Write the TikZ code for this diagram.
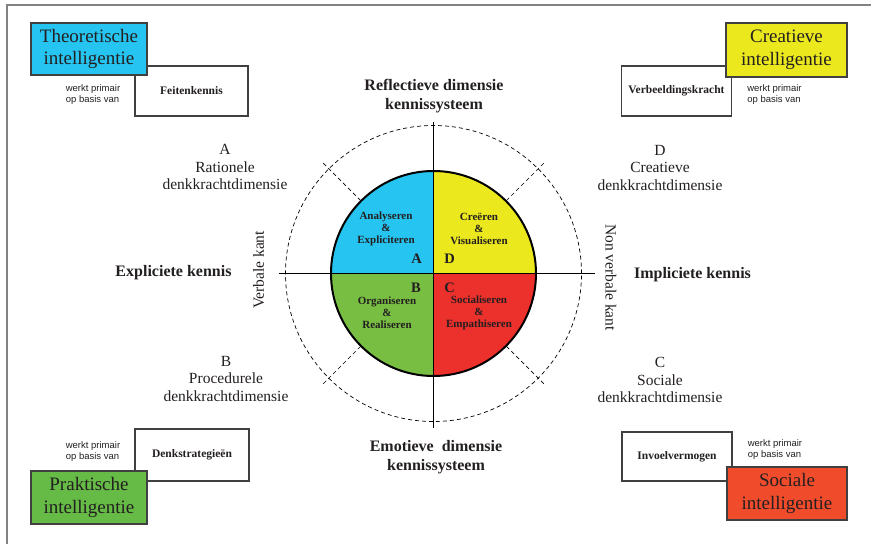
\documentclass[tikz,border=0pt]{standalone}
\usepackage{fontspec}
\setmainfont{Liberation Serif}
\newfontfamily\wpfont{Liberation Sans}
\usetikzlibrary{positioning,calc}
\definecolor{qCyan}{RGB}{38,196,240}
\definecolor{qYellow}{RGB}{235,232,30}
\definecolor{qGreen}{RGB}{120,190,66}
\definecolor{qRed}{RGB}{236,48,44}
\definecolor{pGreen}{RGB}{102,187,70}
\definecolor{sRed}{RGB}{240,76,44}
\definecolor{dGray}{RGB}{64,64,64}
\definecolor{fGray}{RGB}{130,130,130}
\definecolor{tBlack}{RGB}{35,31,32}
\begin{document}
\begin{tikzpicture}[x=1pt,y=1pt,
  intel/.style={draw=dGray,line width=1.2pt,align=center,inner sep=0pt,text=tBlack,font=\fontsize{19}{22.5}\selectfont},
  kbox/.style={draw=dGray,line width=1.2pt,fill=white,minimum width=112pt,minimum height=50pt,inner sep=0pt,text=tBlack,font=\bfseries\fontsize{11.5}{13}\selectfont},
  wp/.style={align=left,inner sep=0pt,text=tBlack,font=\wpfont\fontsize{9.5}{11}\selectfont},
  head/.style={align=center,inner sep=0pt,text=tBlack,font=\bfseries\fontsize{16}{19}\selectfont},
  dim/.style={align=center,inner sep=0pt,text=tBlack,font=\fontsize{15.5}{17.5}\selectfont},
  quad/.style={align=center,inner sep=0pt,text=tBlack,font=\bfseries\fontsize{11}{12}\selectfont},
  qlet/.style={inner sep=0pt,text=tBlack,font=\bfseries\fontsize{14.5}{16}\selectfont},
  ax/.style={line width=0.9pt,black},
  dsh/.style={line width=0.7pt,dash pattern=on 4pt off 3pt}]
\useasboundingbox (0,0) rectangle (871,544);
\draw[fGray,line width=1.2pt] (7,0) -- (7,539) -- (871,539);
% circle
\coordinate (c) at (433.5,270.5);
\fill[qCyan] (c) -- ++(-102.5,0) arc[start angle=180,end angle=90,radius=102.5] -- cycle;
\fill[qYellow] (c) -- ++(0,102.5) arc[start angle=90,end angle=0,radius=102.5] -- cycle;
\fill[qRed] (c) -- ++(102.5,0) arc[start angle=0,end angle=-90,radius=102.5] -- cycle;
\fill[qGreen] (c) -- ++(0,-102.5) arc[start angle=270,end angle=180,radius=102.5] -- cycle;
\draw[dsh] (c) circle[radius=148];
\foreach \a in {45,135,225,315} \draw[dsh] (c) ++(\a:103) -- ++(\a:55);
\draw[ax] (c) ++(0,151.5) -- ++(0,-306);
\draw[ax] (c) ++(-154.5,0) -- ++(316,0);
\draw[line width=2pt,black] (c) circle[radius=102.5];
\node[quad] (ana) at ($(c)+(-47.5,44.5)$) {Analyseren\\\&\\Expliciteren};
\node[quad] (cre) at ($(c)+(45.5,44.5)$) {Creëren\\\&\\Visualiseren};
\node[quad] (org) at ($(c)+(-46.5,-39.5)$) {Organiseren\\\&\\Realiseren};
\node[quad] (soc) at ($(c)+(45.5,-39.5)$) {Socialiseren\\\&\\Empathiseren};
\node[qlet] (la) at ($(c)+(-17,15)$) {A};
\node[qlet] (ld) at ($(c)+(16,15)$) {D};
\node[qlet] (lb) at ($(c)+(-17.5,-14)$) {B};
\node[qlet] (lc) at ($(c)+(16,-14)$) {C};
% labels round the circle
\node[head] (refl) at (434,447.5) {Reflectieve dimensie\\kennissysteem};
\node[head] (emo) at (436,86.5) {Emotieve\ \ dimensie\\kennissysteem};
\node[head] (expl) at (173.5,271) {Expliciete kennis};
\node[head] (impl) at (692.5,269) {Impliciete kennis};
\node[dim,rotate=90] (verb) at (258.5,274) {Verbale kant};
\node[dim,rotate=-90] (nverb) at (611,266.5) {Non verbale kant};
\node[dim] (dA) at (225,377) {A\\Rationele\\denkkrachtdimensie};
\node[dim] (dD) at (660,376) {D\\Creatieve\\denkkrachtdimensie};
\node[dim] (dB) at (226,165) {B\\Procedurele\\denkkrachtdimensie};
\node[dim] (dC) at (660,164) {C\\Sociale\\denkkrachtdimensie};
% corner boxes
\node[kbox,minimum width=113pt] (feit) at (191.5,453) {Feitenkennis};
\node[kbox,minimum width=110pt] (verbk) at (676.5,453) {Verbeeldingskracht};
\node[kbox,minimum width=114pt,minimum height=52pt] (denk) at (192,89) {Denkstrategieën};
\node[kbox,minimum width=110pt,minimum height=49pt] (invoel) at (677,87.5) {Invoelvermogen};
\node[intel,fill=qCyan,minimum width=116pt,minimum height=52pt] (theo) at (89,495) {Theoretische\\intelligentie};
\node[intel,fill=qYellow,minimum width=121pt,minimum height=54pt] (crea) at (786.5,494) {Creatieve\\intelligentie};
\node[intel,fill=pGreen,minimum width=116pt,minimum height=53pt] (prak) at (89,46.5) {Praktische\\intelligentie};
\node[intel,fill=sRed,minimum width=120pt,minimum height=53pt] (soci) at (787,50.5) {Sociale\\intelligentie};
\node[wp,left=14pt of feit,yshift=-3.5pt] (wp1) {werkt primair\\op basis van};
\node[wp,right=15pt of verbk,yshift=-4pt] (wp2) {werkt primair\\op basis van};
\node[wp,left=14pt of denk,yshift=3pt] (wp3) {werkt primair\\op basis van};
\node[wp,right=15pt of invoel,yshift=6.5pt] (wp4) {werkt primair\\op basis van};
\end{tikzpicture}
\end{document}
